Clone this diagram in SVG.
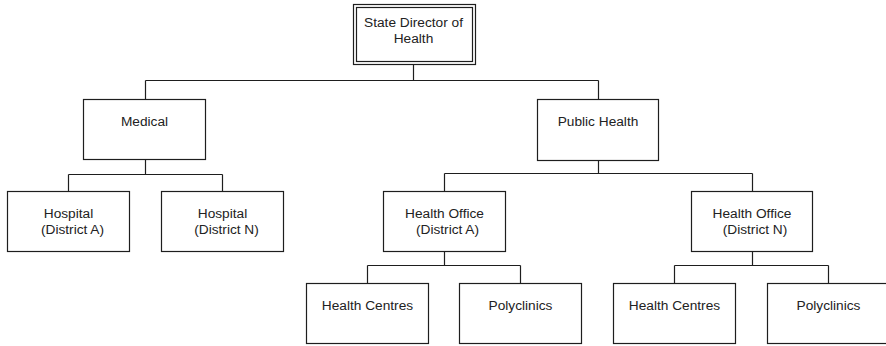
<svg xmlns="http://www.w3.org/2000/svg" width="886" height="346" viewBox="0 0 886 346">
  <style>
    .box { fill: #ffffff; stroke: #1e1e1e; stroke-width: 1.2; }
    .conn { fill: none; stroke: #1e1e1e; stroke-width: 1.2; }
    .lbl { font-family: "Liberation Sans", Arial, sans-serif; font-size: 13.7px; fill: #222222; text-anchor: middle; }
  </style>
  <rect width="886" height="346" fill="#ffffff"/>

  <!-- connectors -->
  <g id="connectors" class="conn">
    <path d="M413.5,65 V80.5 M145.5,80.5 H598.5 M145.5,80.5 V99 M598.5,80.5 V99"/>
    <path d="M145.5,160 V174.5 M68.5,174.5 H222.5 M68.5,174.5 V191 M222.5,174.5 V191"/>
    <path d="M598.5,161 V173.5 M444.5,173.5 H752.5 M444.5,173.5 V191 M752.5,173.5 V191"/>
    <path d="M444.5,252 V265.5 M367.5,265.5 H520.5 M367.5,265.5 V283 M520.5,265.5 V283"/>
    <path d="M752.5,252 V265.5 M674.5,265.5 H828.5 M674.5,265.5 V283 M828.5,265.5 V283"/>
  </g>

  <!-- root: double border -->
  <g id="director">
    <rect class="box" x="353.5" y="4.5" width="122" height="60"/>
    <rect class="box" x="356.5" y="7.5" width="116" height="54"/>
    <text class="lbl" x="413.5" y="27">State Director of</text>
    <text class="lbl" x="413.5" y="43">Health</text>
  </g>

  <g id="medical">
    <rect class="box" x="83.5" y="99.5" width="122" height="60"/>
    <text class="lbl" x="144.5" y="126">Medical</text>
  </g>

  <g id="public-health">
    <rect class="box" x="537.5" y="99.5" width="121" height="61"/>
    <text class="lbl" x="598" y="126">Public Health</text>
  </g>

  <g id="hospital-a">
    <rect class="box" x="7.5" y="191.5" width="122" height="60"/>
    <text class="lbl" x="68.5" y="218">Hospital</text>
    <text class="lbl" x="72.5" y="234">(District A)</text>
  </g>

  <g id="hospital-n">
    <rect class="box" x="161.5" y="191.5" width="122" height="60"/>
    <text class="lbl" x="222.5" y="218">Hospital</text>
    <text class="lbl" x="226.5" y="234">(District N)</text>
  </g>

  <g id="health-office-a">
    <rect class="box" x="383.5" y="191.5" width="122" height="60"/>
    <text class="lbl" x="444.5" y="218">Health Office</text>
    <text class="lbl" x="447.5" y="234">(District A)</text>
  </g>

  <g id="health-office-n">
    <rect class="box" x="691.5" y="191.5" width="121" height="60"/>
    <text class="lbl" x="752" y="218">Health Office</text>
    <text class="lbl" x="755" y="234">(District N)</text>
  </g>

  <g id="health-centres-a">
    <rect class="box" x="306.5" y="283.5" width="122" height="60"/>
    <text class="lbl" x="367.5" y="310">Health Centres</text>
  </g>

  <g id="polyclinics-a">
    <rect class="box" x="459.5" y="283.5" width="122" height="60"/>
    <text class="lbl" x="520.5" y="310">Polyclinics</text>
  </g>

  <g id="health-centres-n">
    <rect class="box" x="613.5" y="283.5" width="122" height="60"/>
    <text class="lbl" x="674.5" y="310">Health Centres</text>
  </g>

  <g id="polyclinics-n">
    <rect class="box" x="767.5" y="283.5" width="122" height="60"/>
    <text class="lbl" x="828.5" y="310">Polyclinics</text>
  </g>
</svg>
